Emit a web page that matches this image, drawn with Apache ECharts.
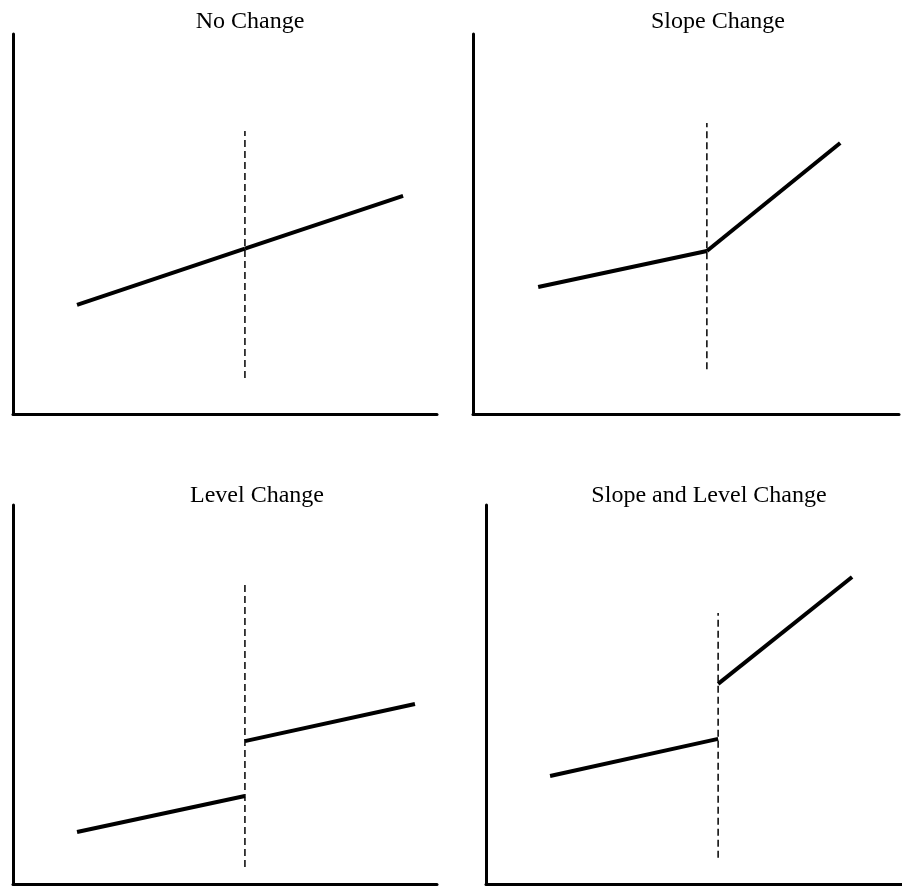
<!DOCTYPE html>
<html>
<head>
<meta charset="utf-8">
<title>Interrupted time series patterns</title>
<script src="https://cdn.jsdelivr.net/npm/echarts@6/dist/echarts.min.js"></script>
<style>
  html, body { margin: 0; padding: 0; background: #fff; }
  #chart { width: 902px; height: 886px; }
</style>
</head>
<body>
<div id="chart"></div>
<script>
// titles of the four panels
var panelTitles = ['No Change', 'Slope Change', 'Level Change', 'Slope and Level Change'];
// pre-intervention segment, [x0, x1] and [y0, y1] (axis units 0..100)
var preX = [[15.1, 54.7], [15.3, 54.9], [15.1, 54.7], [15.4, 55.8]];
var preY = [[28.7, 43.5], [33.4, 42.9], [13.7, 23.2], [28.5, 38.3]];
// post-intervention segment
var postX = [[54.7, 92.0], [54.9, 86.2], [54.7, 94.8], [55.8, 88.0]];
var postY = [[43.5, 57.4], [42.9, 71.3], [37.7, 47.5], [52.8, 81.0]];
// intervention (dashed vertical) line
var interventionX = [54.7, 54.9, 54.7, 55.8];
var dashLow = [9.5, 11.8, 4.5, 6.9];
var dashHigh = [74.5, 76.6, 78.9, 71.5];

// panel boxes, in px
var grids = [
    {left: 13, top: 34, width: 424, height: 380},
    {left: 473, top: 34, width: 426, height: 380},
    {left: 13, top: 505, width: 424, height: 379},
    {left: 486, top: 505, width: 416, height: 379}
];
var titlePos = [[250, 22], [718, 22], [257, 496], [709, 496]];

var myChart = echarts.init(document.getElementById('chart'));

var xAxes = [], yAxes = [], series = [], texts = [];
for (var i = 0; i < 4; i++) {
    var ax = {
        gridIndex: i, type: 'value', min: 0, max: 100,
        axisLine: {show: true, onZero: false, lineStyle: {color: '#000', width: 3}},
        axisTick: {show: false}, axisLabel: {show: false}, splitLine: {show: false}
    };
    xAxes.push(echarts.util.clone(ax));
    yAxes.push(echarts.util.clone(ax));
    // pre segment
    series.push({
        type: 'line', xAxisIndex: i, yAxisIndex: i, symbol: 'none', silent: true,
        lineStyle: {color: '#000', width: 4, cap: 'butt'},
        data: [[preX[i][0], preY[i][0]], [preX[i][1], preY[i][1]]]
    });
    // post segment
    series.push({
        type: 'line', xAxisIndex: i, yAxisIndex: i, symbol: 'none', silent: true,
        lineStyle: {color: '#000', width: 4, cap: 'butt'},
        data: [[postX[i][0], postY[i][0]], [postX[i][1], postY[i][1]]]
    });
    // dashed intervention line
    series.push({
        type: 'line', xAxisIndex: i, yAxisIndex: i, symbol: 'none', silent: true, z: 1,
        lineStyle: {color: '#000', width: 1.5, type: [7, 4]},
        data: [[interventionX[i], dashLow[i]], [interventionX[i], dashHigh[i]]]
    });
    texts.push({
        type: 'text', x: titlePos[i][0], y: titlePos[i][1],
        style: {
            text: panelTitles[i], fill: '#000', align: 'center', verticalAlign: 'middle',
            font: '24px "Liberation Serif", "Times New Roman", serif'
        }
    });
}

var option = {
    animation: false,
    backgroundColor: '#fff',
    grid: grids,
    xAxis: xAxes,
    yAxis: yAxes,
    series: series,
    graphic: texts
};
myChart.setOption(option);
</script>
</body>
</html>
